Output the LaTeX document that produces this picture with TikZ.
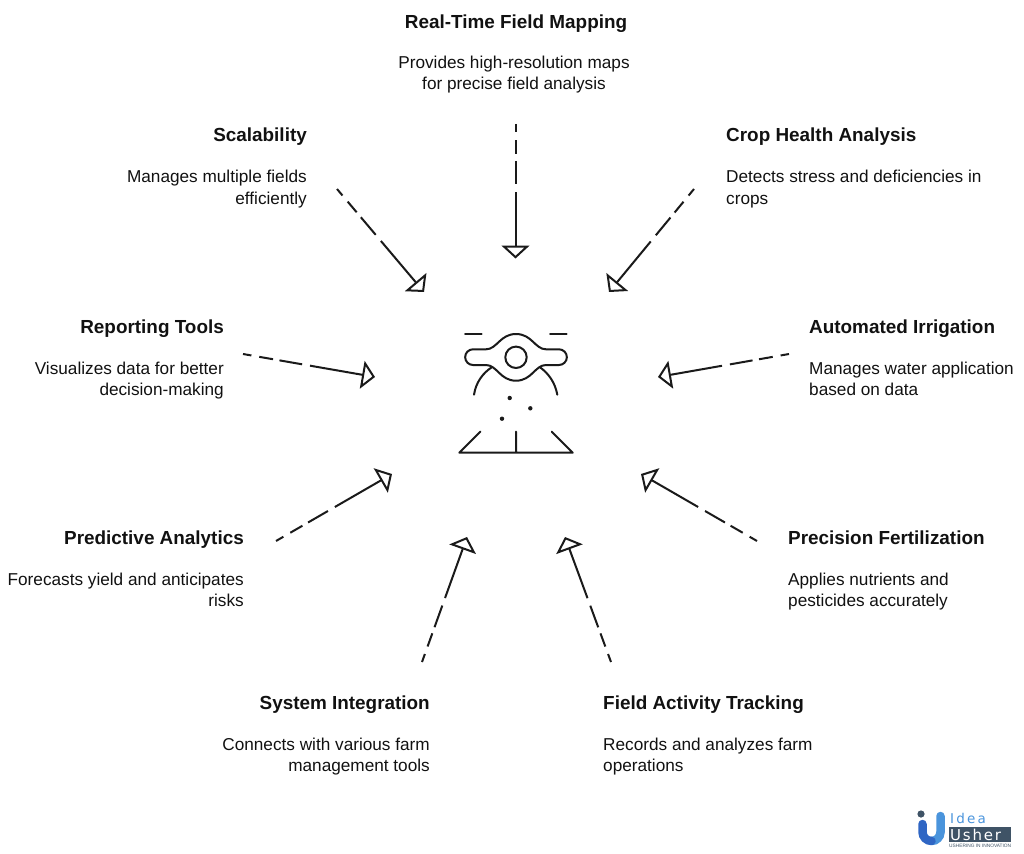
\documentclass[tikz,border=0pt]{standalone}
\usepackage{fontspec}
\setmainfont{Liberation Sans}
\usetikzlibrary{arrows.meta}
\definecolor{ink}{HTML}{1A1A1A}
\definecolor{txt}{HTML}{111111}
\tikzset{
  ttl/.style={inner sep=0pt,text=txt,font=\fontsize{18.9}{21}\selectfont\bfseries},
  ttlL/.style={ttl,anchor=base west},
  ttlR/.style={ttl,anchor=base east},
  ttlC/.style={ttl,anchor=base},
  dsc/.style={inner sep=0pt,text=txt,font=\fontsize{17.2}{21}\selectfont},
  dscL/.style={dsc,align=left,anchor=base west},
  dscR/.style={dsc,align=right,anchor=base east},
  dscC/.style={dsc,align=center,anchor=base},
  pointer/.style={draw=ink,line width=2pt,dash pattern=on 8.5pt off 8pt on 14pt off 6.5pt on 23pt off 8pt on 300pt,
    -{Triangle[open,length=13pt,width=28pt,line width=2pt]}},
  icon/.style={draw=ink,line width=2pt,line cap=round,line join=round},
}
\begin{document}
\begin{tikzpicture}[x=1pt,y=-1pt]
\useasboundingbox (0,0) rectangle (1024,853);
% texts
\node[ttlC] (t1) at (516,29) {Real-Time Field Mapping};
\node[dscC] (d1) at (514,90) {Provides high-resolution maps\\for precise field analysis};
\node[ttlR] (t2) at (307,142) {Scalability};
\node[dscR] (d2) at (307,204) {Manages multiple fields\\efficiently};
\node[ttlL] (t3) at (726,142) {Crop Health Analysis};
\node[dscL] (d3) at (726,204) {Detects stress and deficiencies in\\crops};
\node[ttlR] (t4) at (224,333) {Reporting Tools};
\node[dscR] (d4) at (224,395) {Visualizes data for better\\decision-making};
\node[ttlL] (t5) at (809,333) {Automated Irrigation};
\node[dscL] (d5) at (809,395) {Manages water application\\based on data};
\node[ttlR] (t6) at (244,544) {Predictive Analytics};
\node[dscR] (d6) at (244,606) {Forecasts yield and anticipates\\risks};
\node[ttlL] (t7) at (788,544) {Precision Fertilization};
\node[dscL] (d7) at (788,606) {Applies nutrients and\\pesticides accurately};
\node[ttlR] (t8) at (430,709) {System Integration};
\node[dscR] (d8) at (430,771) {Connects with various farm\\management tools};
\node[ttlL] (t9) at (603,709) {Field Activity Tracking};
\node[dscL] (d9) at (603,771) {Records and analyzes farm\\operations};
% connector ends
\coordinate (s1) at (515.5,124); \coordinate (e1) at (515.5,258.5);
\coordinate (s2) at (337,189); \coordinate (e2) at (424,292);
\coordinate (s3) at (694,189); \coordinate (e3) at (609,292);
\coordinate (s4) at (243,354); \coordinate (e4) at (375,377);
\coordinate (s5) at (789,354); \coordinate (e5) at (658,377);
\coordinate (s6) at (276,541); \coordinate (e6) at (392,474);
\coordinate (s7) at (757,541); \coordinate (e7) at (641,474);
\coordinate (s8) at (422,662); \coordinate (e8) at (467,537);
\coordinate (s9) at (611,662); \coordinate (e9) at (565,537);
\foreach \i in {1,...,9}{\draw[pointer] (s\i) -- (e\i);}
% central icon
\draw[icon] (465,334) -- (481.7,334) (550,334) -- (566.7,334);
\draw[icon] (473,349.3) -- (486,349.3)
  .. controls (497,349.3) and (500,334) .. (516,334)
  .. controls (532,334) and (535,349.3) .. (546,349.3) -- (559,349.3)
  arc[start angle=-90,end angle=90,radius=7.85] -- (546,365)
  .. controls (535,365) and (532,380.7) .. (516,380.7)
  .. controls (500,380.7) and (497,365) .. (486,365) -- (473,365)
  arc[start angle=90,end angle=270,radius=7.85] -- cycle;
\draw[icon] (516,357.3) circle[radius=10.7];
\draw[icon] (474,394.7) .. controls (476,382) and (483,373) .. (491.7,367.3);
\draw[icon] (557.3,394.7) .. controls (555,382) and (548,373) .. (540,367.3);
\fill[ink] (509.7,398) circle[radius=2.2] (530.3,408.3) circle[radius=2.2] (502,418.7) circle[radius=2.2];
\draw[icon] (480.3,431.7) -- (459.3,452.7) -- (572.7,452.7) -- (551.7,431.7) (516,431.7) -- (516,452.7);
% logo
\definecolor{logoA}{HTML}{2F66C4}\definecolor{logoB}{HTML}{4A94DC}\definecolor{logoD}{HTML}{3F5366}
\fill[logoD] (921,814) circle[radius=3.6];
\draw[logoB,line width=8.5pt,line cap=round] (940.5,816) -- (940.5,832) arc[start angle=0,end angle=90,radius=9];
\draw[logoA,line width=8.5pt,line cap=round] (922.5,824) -- (922.5,832) arc[start angle=180,end angle=90,radius=9];
\node[inner sep=0pt,text=logoB,font={\fontspec{DejaVu Sans}[LetterSpace=16]\fontsize{13.5}{14}\selectfont},anchor=base west] (lg1) at (950,823.5) {Idea};
\fill[logoD] (949,827) rectangle (1011,842);
\node[inner sep=0pt,text=white,font={\fontspec{DejaVu Sans}[LetterSpace=12]\fontsize{15}{15}\selectfont},anchor=base west] (lg2) at (950,840) {Usher};
\node[inner sep=0pt,text=logoD,font=\fontsize{4.8}{5}\selectfont,anchor=base west] (lg3) at (949,847.5) {USHERING IN INNOVATION};
\end{tikzpicture}
\end{document}
